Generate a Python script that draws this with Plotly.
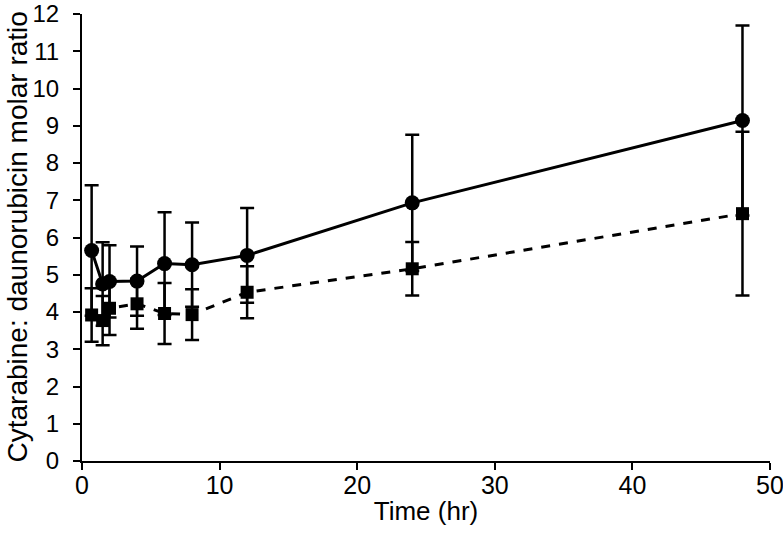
import plotly.graph_objects as go

time_hr = [0.7, 1.5, 2, 4, 6, 8, 12, 24, 48]
ratio_circle = [5.65, 4.75, 4.82, 4.83, 5.30, 5.27, 5.52, 6.93, 9.14]
err_circle = [1.75, 1.12, 0.97, 0.93, 1.38, 1.13, 1.27, 1.83, 2.55]
ratio_square = [3.92, 3.77, 4.10, 4.22, 3.96, 3.93, 4.53, 5.16, 6.64]
err_square = [0.72, 0.66, 0.72, 0.67, 0.82, 0.68, 0.70, 0.72, 2.20]
x_ticks = [0, 10, 20, 30, 40, 50]
y_ticks = list(range(0, 13))

fig = go.Figure()
fig.add_trace(go.Scatter(
    x=time_hr, y=ratio_square, mode="lines+markers",
    line=dict(color="black", width=3, dash="dash"),
    marker=dict(symbol="square", size=13, color="black"),
    error_y=dict(type="data", array=err_square, visible=True,
                 color="black", thickness=2.5, width=7),
    showlegend=False, cliponaxis=False,
))
fig.add_trace(go.Scatter(
    x=time_hr, y=ratio_circle, mode="lines+markers",
    line=dict(color="black", width=3),
    marker=dict(symbol="circle", size=15, color="black"),
    error_y=dict(type="data", array=err_circle, visible=True,
                 color="black", thickness=2.5, width=7),
    showlegend=False, cliponaxis=False,
))

font = dict(family="Liberation Sans, Arial, sans-serif", color="black")
fig.update_layout(
    width=783, height=539,
    margin=dict(l=82, r=13, t=14, b=78),
    paper_bgcolor="white", plot_bgcolor="white",
    font=dict(size=24, **font),
    annotations=[dict(
        text="Cytarabine: daunorubicin molar ratio", textangle=-90,
        xref="paper", yref="paper", x=0, y=0.5, xanchor="center", yanchor="middle",
        xshift=-65, showarrow=False, font=dict(size=28, **font),
    )],
)
fig.update_xaxes(
    range=[0, 50], tickvals=x_ticks, ticks="outside", ticklen=7, tickwidth=2,
    tickcolor="black", showline=True, linecolor="black", linewidth=2,
    showgrid=False, zeroline=False, automargin=False,
    ticklabeloverflow="allow", ticklabelstandoff=-6,
    tickfont=dict(size=25, **font),
    title=dict(text="Time (hr)", font=dict(size=26, **font), standoff=4),
)
fig.update_yaxes(
    range=[0, 12], tickvals=y_ticks, ticks="outside", ticklen=7, tickwidth=2,
    tickcolor="black", showline=True, linecolor="black", linewidth=2,
    showgrid=False, zeroline=False, automargin=False,
    ticklabeloverflow="allow", ticklabelstandoff=9,
    tickfont=dict(size=24, **font),
)
fig.write_html("out.html", post_script="document.body.style.margin='0';",
               config={"displayModeBar": False})
